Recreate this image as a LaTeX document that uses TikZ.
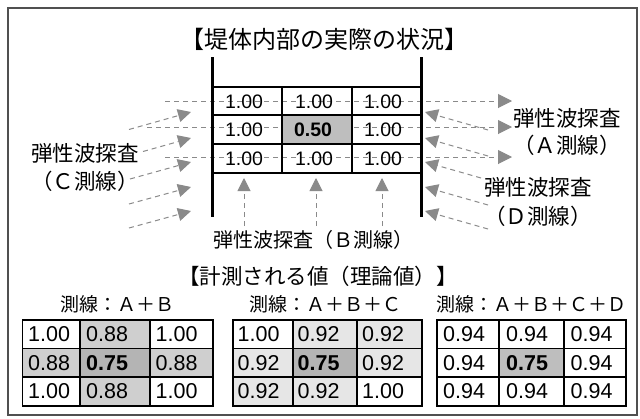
\documentclass[tikz,border=0pt]{standalone}
\usepackage{fontspec}
\setmainfont{Liberation Sans}
\newfontfamily\jpfont{Noto Sans CJK JP}
\usetikzlibrary{arrows.meta}
\definecolor{agray}{HTML}{8A8A8A}
\definecolor{framegray}{HTML}{505050}
\definecolor{cellmid}{HTML}{BEBEBE}
\definecolor{shadeA}{HTML}{CFCFCF}
\definecolor{shadeB}{HTML}{B4B4B4}
\definecolor{shadeC}{HTML}{E6E6E6}
\begin{document}
\begin{tikzpicture}[x=1pt,y=-1pt,
 title/.style={font=\jpfont\fontsize{24}{27}\selectfont,inner sep=0pt},
 lab/.style={font=\jpfont\fontsize{21.5}{24}\selectfont,inner sep=0pt},
 blab/.style={font=\jpfont\fontsize{20}{22}\selectfont,inner sep=0pt},
 ltitle/.style={font=\jpfont\fontsize{21.5}{24}\selectfont,inner sep=0pt},
 hdr/.style={font=\jpfont\fontsize{19}{21}\selectfont,inner sep=0pt},
 unum/.style={font=\fontsize{19.5}{20}\selectfont,inner sep=0pt},
 lnum/.style={font=\fontsize{21.5}{22}\selectfont,inner sep=0pt,anchor=west},
 dline/.style={draw=agray,line width=1pt,dash pattern=on 5pt off 4pt},
 harr/.style={dline,-{Triangle[length=14pt,width=14pt]}},
 sarr/.style={dline,-{Triangle[length=13pt,width=13pt]}},
 tline/.style={line width=1.8pt},
]
\useasboundingbox (0,0) rectangle (640,418);
\fill[white] (0,0) rectangle (640,418);
% frame
\draw[framegray,line width=1.5pt] (8,8) rectangle (637,415);
% top title
\node[title] (ttl) at (324,39) {【堤体内部の実際の状況】};
% A line (horizontal) dashed arrows
\coordinate (a1s) at (165,101); \coordinate (a1e) at (512,101);
\coordinate (a2s) at (147,127); \coordinate (a2e) at (512,127);
\coordinate (a3s) at (165,157); \coordinate (a3e) at (512,157);
\draw[harr] (a1s) -- (a1e);
\draw[harr] (a2s) -- (a2e);
\draw[harr] (a3s) -- (a3e);
% shaded cell
\fill[cellmid] (282,115) rectangle (352,144);
% grid
\draw[line width=3pt] (212,57) -- (212,217);
\draw[line width=3pt] (421,57) -- (421,217);
\draw[line width=2pt] (212,87) -- (421,87);
\draw[line width=2pt] (212,144) -- (421,144);
\draw[line width=2pt] (212,173) -- (421,173);
\draw[line width=1.3pt] (212,115) -- (421,115);
\draw[line width=1.3pt] (282,87) -- (282,173);
\draw[line width=1.3pt] (352,87) -- (352,173);
% grid numbers
\node[unum] (u11) at (244,101.5) {1.00};
\node[unum] (u12) at (314,101.5) {1.00};
\node[unum] (u13) at (383,101.5) {1.00};
\node[unum] (u21) at (244,129.5) {1.00};
\node[unum] (u22) at (313,129.5) {\bfseries 0.50};
\node[unum] (u23) at (383,129.5) {1.00};
\node[unum] (u31) at (244,158.5) {1.00};
\node[unum] (u32) at (314,158.5) {1.00};
\node[unum] (u33) at (383,158.5) {1.00};
% C line arrows (left)
\coordinate (c1s) at (129,129.5); \coordinate (c1e) at (191,112);
\coordinate (c2s) at (143,151.5); \coordinate (c2e) at (191,138);
\coordinate (c3s) at (130,179);   \coordinate (c3e) at (191,162);
\coordinate (c4s) at (129,204);   \coordinate (c4e) at (191,187);
\coordinate (c5s) at (129,228);   \coordinate (c5e) at (191,211);
\foreach \i in {1,...,5} {\draw[sarr] (c\i s) -- (c\i e);}
% D line arrows (right)
\coordinate (d1s) at (488,130);   \coordinate (d1e) at (425,112);
\coordinate (d2s) at (488,156);   \coordinate (d2e) at (425,138);
\coordinate (d3s) at (481,178);   \coordinate (d3e) at (425,162);
\coordinate (d4s) at (488,205);   \coordinate (d4e) at (425,187);
\coordinate (d5s) at (488,229);   \coordinate (d5e) at (425,211);
\foreach \i in {1,...,5} {\draw[sarr] (d\i s) -- (d\i e);}
% B line arrows (bottom)
\coordinate (b1s) at (244,226); \coordinate (b1e) at (244,178);
\coordinate (b2s) at (316,226); \coordinate (b2e) at (316,178);
\coordinate (b3s) at (382,226); \coordinate (b3e) at (382,178);
\foreach \i in {1,2,3} {\draw[sarr] (b\i s) -- (b\i e);}
% labels
\node[lab] (cl1) at (85,153) {弾性波探査};
\node[lab] (cl2) at (85,181) {（Ｃ測線）};
\node[lab] (al1) at (567,118) {弾性波探査};
\node[lab] (al2) at (567,145) {（Ａ測線）};
\node[lab] (dl1) at (538,187) {弾性波探査};
\node[lab] (dl2) at (538,216) {（Ｄ測線）};
\node[blab] (bl) at (313,240) {弾性波探査（Ｂ測線）};
% lower title
\node[ltitle] (ltl) at (318,276) {【計測される値（理論値）】};
\node[hdr] (h1) at (117,304) {測線：Ａ＋Ｂ};
\node[hdr] (h2) at (325,304) {測線：Ａ＋Ｂ＋Ｃ};
\node[hdr] (h3) at (531,304) {測線：Ａ＋Ｂ＋Ｃ＋Ｄ};
% table 1
\fill[shadeA] (80,320) rectangle (150,348.5);
\fill[shadeA] (22.5,348.5) rectangle (80,377);
\fill[shadeB] (80,348.5) rectangle (150,377);
\fill[shadeA] (150,348.5) rectangle (213,377);
\fill[shadeA] (80,377) rectangle (150,406);
\draw[tline] (22.5,320) rectangle (213,406);
\draw[tline] (80,320) -- (80,406);
\draw[tline] (150,320) -- (150,406);
\draw[tline] (22.5,348.5) -- (213,348.5);
\draw[tline] (22.5,377) -- (213,377);
\node[lnum] (p11) at (28,334.5) {1.00};
\node[lnum] (p12) at (86,334.5) {0.88};
\node[lnum] (p13) at (155.5,334.5) {1.00};
\node[lnum] (p21) at (28,363) {0.88};
\node[lnum] (p22) at (86,363) {\bfseries 0.75};
\node[lnum] (p23) at (155.5,363) {0.88};
\node[lnum] (p31) at (28,391.5) {1.00};
\node[lnum] (p32) at (86,391.5) {0.88};
\node[lnum] (p33) at (155.5,391.5) {1.00};
% table 2
\fill[shadeC] (293,320) rectangle (422,348.5);
\fill[shadeC] (233,348.5) rectangle (422,377);
\fill[shadeB] (293,348.5) rectangle (357,377);
\fill[shadeC] (233,377) rectangle (357,406);
\draw[tline] (233,320) rectangle (422,406);
\draw[tline] (293,320) -- (293,406);
\draw[tline] (357,320) -- (357,406);
\draw[tline] (233,348.5) -- (422,348.5);
\draw[tline] (233,377) -- (422,377);
\node[lnum] (q11) at (237.5,334.5) {1.00};
\node[lnum] (q12) at (297.5,334.5) {0.92};
\node[lnum] (q13) at (362,334.5) {0.92};
\node[lnum] (q21) at (237.5,363) {0.92};
\node[lnum] (q22) at (297.5,363) {\bfseries 0.75};
\node[lnum] (q23) at (362,363) {0.92};
\node[lnum] (q31) at (237.5,391.5) {0.92};
\node[lnum] (q32) at (297.5,391.5) {0.92};
\node[lnum] (q33) at (362,391.5) {1.00};
% table 3
\fill[cellmid] (499,348.5) rectangle (564,377);
\draw[tline] (437,320) rectangle (626,406);
\draw[tline] (499,320) -- (499,406);
\draw[tline] (564,320) -- (564,406);
\draw[tline] (437,348.5) -- (626,348.5);
\draw[tline] (437,377) -- (626,377);
\node[lnum] (r11) at (443,334.5) {0.94};
\node[lnum] (r12) at (506,334.5) {0.94};
\node[lnum] (r13) at (570.5,334.5) {0.94};
\node[lnum] (r21) at (443,363) {0.94};
\node[lnum] (r22) at (506,363) {\bfseries 0.75};
\node[lnum] (r23) at (570.5,363) {0.94};
\node[lnum] (r31) at (443,391.5) {0.94};
\node[lnum] (r32) at (506,391.5) {0.94};
\node[lnum] (r33) at (570.5,391.5) {0.94};
\end{tikzpicture}
\end{document}
